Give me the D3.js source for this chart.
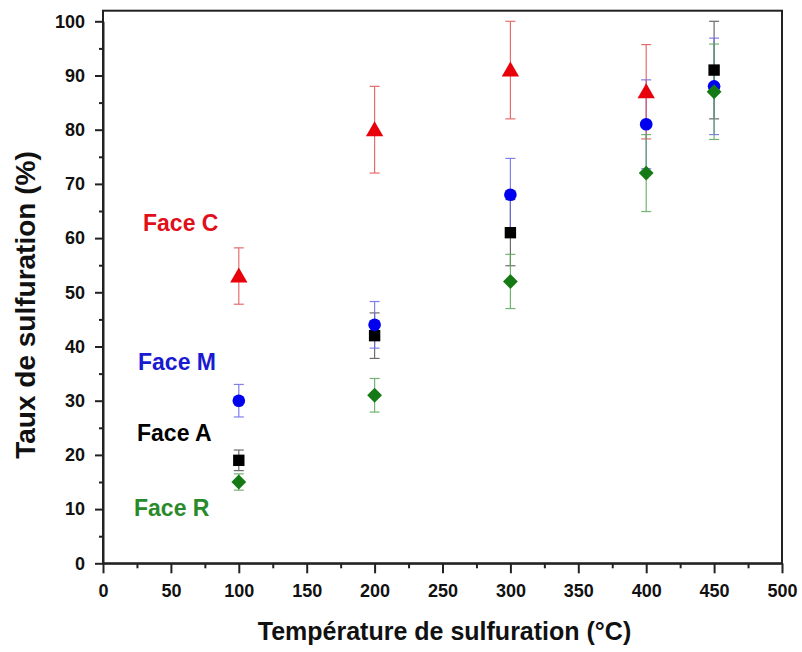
<!DOCTYPE html>
<html>
<head>
<meta charset="utf-8">
<script src="https://cdn.jsdelivr.net/npm/d3@7"></script>
<style>
  html, body { margin: 0; padding: 0; background: #fff; }
  svg { display: block; }
  text { font-family: "Liberation Sans", Arial, sans-serif; font-weight: bold; }
</style>
</head>
<body>
<div id="chart"></div>
<script>
// ---- data ----
const temperatures = [100, 200, 300, 400, 450];
const faceC = [53, 80, 91, 87, null];
const faceCErr = [5.2, 8, 9, 8.7, null];
const faceM = [30, 44, 68, 81, 88];
const faceMErr = [3, 4.3, 6.7, 8.2, 8.9];
const faceA = [19, 42, 61, null, 91];
const faceAErr = [1.9, 4.2, 6.1, null, 9];
const faceR = [15, 31, 52, 72, 87];
const faceRErr = [1.5, 3.1, 5, 7.1, 8.8];
const xTicks = [0, 50, 100, 150, 200, 250, 300, 350, 400, 450, 500];
const yTicks = [0, 10, 20, 30, 40, 50, 60, 70, 80, 90, 100];
const xTitle = "Température de sulfuration (°C)";
const yTitle = "Taux de sulfuration (%)";

const series = [
  { name: "Face A", values: faceA, errs: faceAErr, color: "#000000", bar: "#555555", shape: "square", label: [137, 441] },
  { name: "Face M", values: faceM, errs: faceMErr, color: "#0000ee", bar: "#6a6ae8", shape: "circle", label: [138, 370], textColor: "#1a1ad0" },
  { name: "Face C", values: faceC, errs: faceCErr, color: "#e8000b", bar: "#e05555", shape: "triangle", label: [143, 231], textColor: "#e0101a" },
  { name: "Face R", values: faceR, errs: faceRErr, color: "#157a15", bar: "#5aa85a", shape: "diamond", label: [134, 516], textColor: "#2a8a2a" }
];

const W = 802, H = 652;
const L = 103, R = 782, T = 10.7, B = 563.3;

const svg = d3.select("#chart").append("svg").attr("width", W).attr("height", H);

const x = d3.scaleLinear().domain([0, 500]).range([L, R]);
const y = d3.scaleLinear().domain([0, 100]).range([B, T + 10.6]);

// frame
svg.append("rect").attr("x", L).attr("y", T).attr("width", R - L).attr("height", B - T)
  .attr("fill", "none").attr("stroke", "#222").attr("stroke-width", 2);

// minor ticks
const minorX = d3.range(25, 500, 50);
const minorY = d3.range(5, 100, 10);
svg.append("g").attr("transform", `translate(0,${B})`)
  .call(d3.axisBottom(x).tickValues(minorX).tickSize(5).tickFormat(""))
  .call(g => g.select(".domain").remove())
  .call(g => g.selectAll("line").attr("stroke", "#222").attr("stroke-width", 2));
svg.append("g").attr("transform", `translate(${L},0)`)
  .call(d3.axisLeft(y).tickValues(minorY).tickSize(4).tickFormat(""))
  .call(g => g.select(".domain").remove())
  .call(g => g.selectAll("line").attr("stroke", "#222").attr("stroke-width", 2));

// major ticks
const gx = svg.append("g").attr("transform", `translate(0,${B})`)
  .call(d3.axisBottom(x).tickValues(xTicks).tickSize(10).tickPadding(11).tickSizeOuter(0));
gx.select(".domain").attr("stroke", "#222").attr("stroke-width", 2);
gx.selectAll("line").attr("stroke", "#222").attr("stroke-width", 2);
gx.selectAll("text").attr("font-size", 18).attr("fill", "#111")
  .attr("font-family", '"Liberation Sans", Arial, sans-serif').attr("font-weight", "bold");

const gy = svg.append("g").attr("transform", `translate(${L},0)`)
  .call(d3.axisLeft(y).tickValues(yTicks).tickSize(8).tickPadding(10).tickSizeOuter(0));
gy.select(".domain").attr("stroke", "#222").attr("stroke-width", 2);
gy.selectAll("line").attr("stroke", "#222").attr("stroke-width", 2);
gy.selectAll("text").attr("font-size", 18).attr("fill", "#111")
  .attr("font-family", '"Liberation Sans", Arial, sans-serif').attr("font-weight", "bold");

// axis titles
svg.append("text").attr("x", (L + R) / 2 + 2).attr("y", 640).attr("text-anchor", "middle")
  .attr("font-size", 25).attr("fill", "#111").text(xTitle);
svg.append("text").attr("transform", `translate(35,${305}) rotate(-90)`).attr("text-anchor", "middle")
  .attr("font-size", 28).attr("fill", "#111").text(yTitle);

// symbols
const symType = { square: d3.symbolSquare, circle: d3.symbolCircle, triangle: d3.symbolTriangle, diamond: d3.symbolSquare };
const symSize = { square: 130, circle: 125, triangle: 130, diamond: 110 };

// error bars first
series.forEach(s => {
  const pts = temperatures.map((t, i) => ({ t, v: s.values[i], e: s.errs[i] })).filter(d => d.v != null);
  const g = svg.append("g").attr("stroke", s.bar).attr("stroke-width", 1.2).attr("opacity", 0.85);
  pts.forEach(d => {
    g.append("line").attr("x1", x(d.t)).attr("x2", x(d.t)).attr("y1", y(d.v - d.e)).attr("y2", y(d.v + d.e));
    [d.v - d.e, d.v + d.e].forEach(v => {
      g.append("line").attr("x1", x(d.t) - 5).attr("x2", x(d.t) + 5).attr("y1", y(v)).attr("y2", y(v));
    });
  });
});

// markers
series.forEach(s => {
  const pts = temperatures.map((t, i) => ({ t, v: s.values[i] })).filter(d => d.v != null);
  svg.append("g").selectAll("path").data(pts).join("path")
    .attr("d", d3.symbol().type(symType[s.shape]).size(symSize[s.shape]))
    .attr("transform", d => `translate(${x(d.t)},${y(d.v) + (s.shape === "triangle" ? 1.5 : 0)})` +
      (s.shape === "diamond" ? " rotate(45)" : ""))
    .attr("fill", s.color);
  svg.append("text").attr("x", s.label[0]).attr("y", s.label[1])
    .attr("font-size", 23).attr("fill", s.textColor || s.color).text(s.name);
});
</script>
</body>
</html>
